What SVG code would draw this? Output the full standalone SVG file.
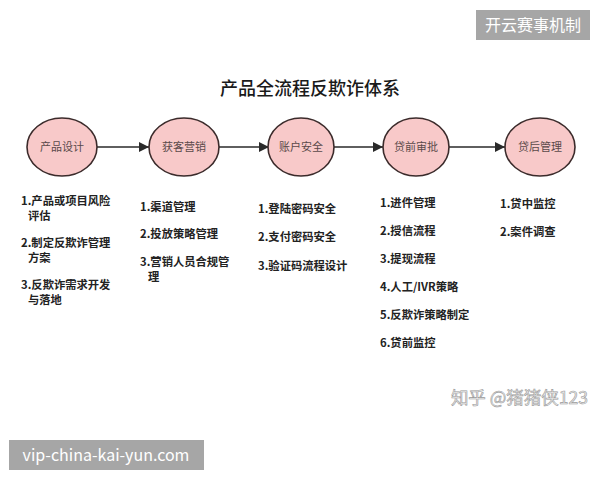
<svg xmlns="http://www.w3.org/2000/svg" width="600" height="480" viewBox="0 0 600 480">
<defs>
<marker id="arr" viewBox="0 0 10 10" refX="10" refY="5" markerWidth="13" markerHeight="10" markerUnits="userSpaceOnUse" orient="auto">
<path d="M0,0 L10,5 L0,10 z" fill="#2a2a2a"/>
</marker>
<style>
.node ellipse{fill:#f8c9c9;stroke:#3b2b2b;stroke-width:1.6}
.lbl{font-family:"Noto Sans CJK SC","Noto Sans",sans-serif;font-size:11px;fill:#5a4a4a;text-anchor:middle}
.item{font-family:"Noto Sans CJK SC","Noto Sans",sans-serif;font-size:11.3px;fill:#222222;font-weight:bold}
.conn line{stroke:#2a2a2a;stroke-width:1.4;marker-end:url(#arr)}
.wm{font-family:"Noto Sans CJK SC","Liberation Sans",sans-serif;font-size:16px;fill:#ffffff}
</style>
</defs>
<rect width="600" height="480" fill="#ffffff"/>
<text x="310" y="95" font-family="Noto Sans CJK SC,sans-serif" font-size="18" fill="#1a1a1a" text-anchor="middle" font-weight="500">产品全流程反欺诈体系</text>
<g class="conn">
<line x1="97" y1="147" x2="149" y2="147"/>
<line x1="219" y1="147" x2="269" y2="147"/>
<line x1="334" y1="147" x2="383" y2="147"/>
<line x1="449" y1="147" x2="505" y2="147"/>
</g>
<g id="n1" class="node"><ellipse cx="62" cy="147" rx="35" ry="29"/><text class="lbl" x="62" y="151">产品设计</text></g>
<g id="n2" class="node"><ellipse cx="184" cy="147" rx="35" ry="29"/><text class="lbl" x="184" y="151">获客营销</text></g>
<g id="n3" class="node"><ellipse cx="301" cy="147" rx="33" ry="29"/><text class="lbl" x="301" y="151">账户安全</text></g>
<g id="n4" class="node"><ellipse cx="416" cy="147" rx="33" ry="29"/><text class="lbl" x="416" y="151">贷前审批</text></g>
<g id="n5" class="node"><ellipse cx="540" cy="147" rx="35" ry="29"/><text class="lbl" x="540" y="151">贷后管理</text></g>
<g id="list1">
<text class="item" x="21" y="205">1.产品或项目风险</text>
<text class="item" x="28" y="220">评估</text>
<text class="item" x="21" y="247">2.制定反欺诈管理</text>
<text class="item" x="28" y="262">方案</text>
<text class="item" x="21" y="289">3.反欺诈需求开发</text>
<text class="item" x="28" y="304">与落地</text>
</g>
<g id="list2">
<text class="item" x="140" y="211">1.渠道管理</text>
<text class="item" x="140" y="238">2.投放策略管理</text>
<text class="item" x="140" y="266">3.营销人员合规管</text>
<text class="item" x="148" y="281">理</text>
</g>
<g id="list3">
<text class="item" x="258" y="213">1.登陆密码安全</text>
<text class="item" x="258" y="241">2.支付密码安全</text>
<text class="item" x="258" y="270">3.验证码流程设计</text>
</g>
<g id="list4">
<text class="item" x="380" y="207">1.进件管理</text>
<text class="item" x="380" y="235">2.授信流程</text>
<text class="item" x="380" y="263">3.提现流程</text>
<text class="item" x="380" y="291">4.人工/IVR策略</text>
<text class="item" x="380" y="319">5.反欺诈策略制定</text>
<text class="item" x="380" y="347">6.贷前监控</text>
</g>
<g id="list5">
<text class="item" x="500" y="208">1.贷中监控</text>
<text class="item" x="500" y="236">2.案件调查</text>
</g>
<rect x="476" y="10" width="114" height="30" fill="#a6a6a6"/>
<text class="wm" x="533" y="31" text-anchor="middle">开云赛事机制</text>
<rect x="9" y="440" width="195" height="30" fill="#a6a6a6"/>
<text class="wm" x="106" y="461" text-anchor="middle">vip-china-kai-yun.com</text>
<text x="588" y="404" text-anchor="end" font-family="Noto Sans CJK SC,sans-serif" font-size="17.5" fill="#eeeeee" stroke="#9a9a9a" stroke-width="0.6">知乎 @猪猪侠123</text>
</svg>
